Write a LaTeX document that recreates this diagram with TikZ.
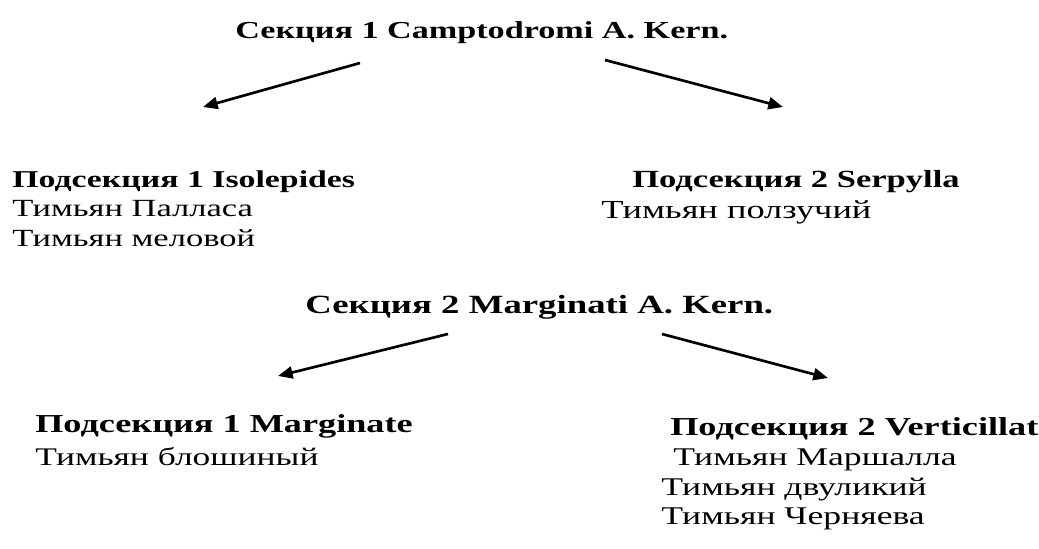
\documentclass[tikz,border=0pt]{standalone}
\usepackage{fontspec}
\setmainfont{Liberation Serif}[FakeStretch=1.4]
\usetikzlibrary{arrows.meta}
\tikzset{
  hd/.style={anchor=base west, inner sep=0pt, font=\fontsize{#1}{20}\selectfont\bfseries},
  hd/.default=18.2,
  tx/.style={anchor=base west, inner sep=0pt, font=\fontsize{#1}{20}\selectfont},
  tx/.default=18.4,
  arr/.style={line width=2pt, -{Triangle[length=11pt,width=9pt]}}
}
\begin{document}
\begin{tikzpicture}[x=0.75pt,y=-0.75pt]
\useasboundingbox (0,0) rectangle (1039,549);
\node[hd=18.3] (t1) at (235,39) {Секция 1 Camptodromi A. Kern.};
\node[hd=18.1] (s11) at (12,188) {Подсекция 1 Isolepides};
\node[tx=18.5] (p1) at (12,217) {Тимьян Палласа};
\node[tx=18.5] (p2) at (12,247) {Тимьян меловой};
\node[hd=18.5] (s12) at (632,188) {Подсекция 2 Serpylla};
\node[tx=19.5] (p3) at (601,219) {Тимьян ползучий};
\node[hd=19.7] (t2) at (305,313) {Секция 2 Marginati A. Kern.};
\node[hd=19.4] (s21) at (35,432) {Подсекция 1 Marginate};
\node[tx=19] (p4) at (35,465) {Тимьян блошиный};
\node[hd=19.4] (s22) at (670,435) {Подсекция 2 Verticillata};
\node[tx=19.1] (p5) at (673,465) {Тимьян Маршалла};
\node[tx=19.1] (p6) at (661,495) {Тимьян двуликий};
\node[tx=19.1] (p7) at (661,524) {Тимьян Черняева};
\coordinate (a1s) at (360,63); \coordinate (a1e) at (203,107);
\coordinate (a2s) at (605,60); \coordinate (a2e) at (783,107);
\coordinate (a3s) at (448,334); \coordinate (a3e) at (278,376);
\coordinate (a4s) at (662,334); \coordinate (a4e) at (828,378);
\draw[arr] (a1s) -- (a1e);
\draw[arr] (a2s) -- (a2e);
\draw[arr] (a3s) -- (a3e);
\draw[arr] (a4s) -- (a4e);
\end{tikzpicture}
\end{document}
